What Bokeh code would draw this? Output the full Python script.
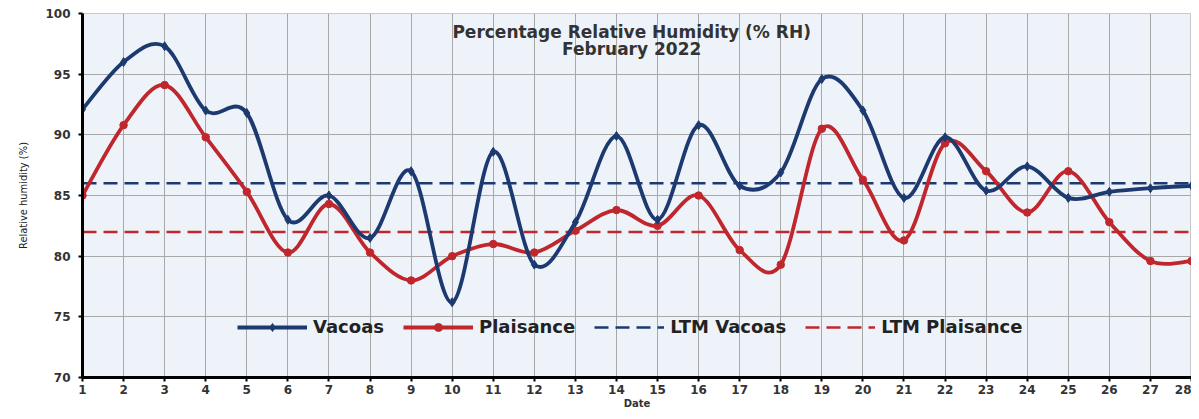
from bokeh.plotting import figure
from bokeh.models import (Range1d, FixedTicker, ColumnDataSource, Legend, LegendItem, Label)
from bokeh.embed import file_html
from bokeh.resources import INLINE

days = list(range(1, 29))
vacoas = [92.1, 96.0, 97.3, 92.0, 91.8, 83.0, 85.0, 81.5, 87.0, 76.2, 88.6, 79.3, 82.8, 89.9,
          83.0, 90.8, 85.8, 86.9, 94.6, 92.0, 84.8, 89.8, 85.4, 87.4, 84.8, 85.3, 85.6, 85.8]
plaisance = [85.0, 90.8, 94.1, 89.8, 85.3, 80.3, 84.3, 80.3, 78.0, 80.0, 81.0, 80.3, 82.1, 83.8,
             82.5, 85.0, 80.5, 79.3, 90.5, 86.3, 81.3, 89.3, 87.0, 83.6, 87.0, 82.8, 79.6, 79.6]
ltm_vacoas = 86.0
ltm_plaisance = 82.0
title_lines = ["Percentage Relative Humidity (% RH)", "February 2022"]

NAVY = "#1d3a70"
RED = "#c0272d"
FONT = "DejaVu Sans"
NARROW = "'Liberation Sans Narrow', 'DejaVu Sans Condensed', 'Liberation Sans', sans-serif"


def smooth_segments(xs, ys):
    """Catmull-Rom style bezier control points (like Excel smoothed lines)."""
    n = len(xs)
    out = dict(x0=[], y0=[], x1=[], y1=[], cx0=[], cy0=[], cx1=[], cy1=[])
    for i in range(n - 1):
        p0 = (xs[max(i - 1, 0)], ys[max(i - 1, 0)])
        p1 = (xs[i], ys[i])
        p2 = (xs[i + 1], ys[i + 1])
        p3 = (xs[min(i + 2, n - 1)], ys[min(i + 2, n - 1)])
        out["x0"].append(p1[0]); out["y0"].append(p1[1])
        out["x1"].append(p2[0]); out["y1"].append(p2[1])
        out["cx0"].append(p1[0] + (p2[0] - p0[0]) / 6.0)
        out["cy0"].append(p1[1] + (p2[1] - p0[1]) / 6.0)
        out["cx1"].append(p2[0] - (p3[0] - p1[0]) / 6.0)
        out["cy1"].append(p2[1] - (p3[1] - p1[1]) / 6.0)
    return out


p = figure(width=1191, height=411, output_backend="svg", toolbar_location=None,
           x_range=Range1d(1, 28), y_range=Range1d(70, 100),
           min_border_left=82, min_border_right=0, min_border_top=13, min_border_bottom=33)

p.background_fill_color = "#eef3fa"
p.border_fill_color = "white"
p.outline_line_color = "#c8c8c8"

p.xgrid.grid_line_color = "#a8a8a8"
p.ygrid.grid_line_color = "#a8a8a8"
p.xgrid.grid_line_width = 1
p.ygrid.grid_line_width = 1

p.xaxis.ticker = FixedTicker(ticks=days)
p.yaxis.ticker = FixedTicker(ticks=list(range(70, 101, 5)))
for ax in (p.xaxis[0], p.yaxis[0]):
    ax.axis_line_color = "black"
    ax.axis_line_width = 3
    ax.major_tick_line_color = "black"
    ax.major_tick_line_width = 2
    ax.major_tick_in = 0
    ax.major_tick_out = 4
    ax.minor_tick_line_color = None
    ax.major_label_text_font = FONT
    ax.major_label_text_font_style = "bold"
    ax.major_label_text_font_size = "12px"
    ax.major_label_text_color = "#333333"

p.yaxis.major_label_standoff = 8
p.xaxis.major_label_standoff = 3
p.yaxis.axis_label = "Relative humidity (%)"
p.yaxis.axis_label_text_font = NARROW
p.yaxis.axis_label_text_font_style = "normal"
p.yaxis.axis_label_text_font_size = "11px"
p.yaxis.axis_label_standoff = 12
p.yaxis.axis_label_text_color = "#222222"
p.xaxis.axis_label = "Date"
p.xaxis.axis_label_text_font = FONT
p.xaxis.axis_label_text_font_style = "bold"
p.xaxis.axis_label_text_font_size = "10px"
p.xaxis.axis_label_standoff = 1
p.xaxis.axis_label_text_color = "#333333"

# LTM lines
x_first, x_last = days[0], days[-1]
ltm_v = p.segment(x0=[x_first], x1=[x_last], y0=[ltm_vacoas], y1=[ltm_vacoas],
                  line_color=NAVY, line_width=2.5, line_dash="14 7")
ltm_p = p.segment(x0=[x_first], x1=[x_last], y0=[ltm_plaisance], y1=[ltm_plaisance],
                  line_color=RED, line_width=2.5, line_dash="14 7")

# Smoothed series
sv = ColumnDataSource(smooth_segments(days, vacoas))
sp = ColumnDataSource(smooth_segments(days, plaisance))
bp = p.bezier(x0="x0", y0="y0", x1="x1", y1="y1", cx0="cx0", cy0="cy0", cx1="cx1", cy1="cy1",
              source=sp, line_color=RED, line_width=3.8)
mp = p.scatter(days, plaisance, marker="circle", size=7.5, color=RED)
bv = p.bezier(x0="x0", y0="y0", x1="x1", y1="y1", cx0="cx0", cy0="cy0", cx1="cx1", cy1="cy1",
              source=sv, line_color=NAVY, line_width=3.8)
mv = p.scatter(days, vacoas, marker="diamond", size=9, color=NAVY)

legend = Legend(items=[
    LegendItem(label="Vacoas", renderers=[bv, mv]),
    LegendItem(label="Plaisance", renderers=[bp, mp]),
    LegendItem(label="LTM Vacoas", renderers=[ltm_v]),
    LegendItem(label="LTM Plaisance", renderers=[ltm_p]),
], orientation="horizontal", location=(155, 40))
legend.background_fill_alpha = 0
legend.border_line_color = None
legend.label_text_font = FONT
legend.label_text_font_style = "bold"
legend.label_text_font_size = "18px"
legend.label_text_color = "#222222"
legend.glyph_width = 70
legend.glyph_height = 20
legend.label_standoff = 6
legend.spacing = 19
legend.padding = 0
legend.margin = 0
p.add_layout(legend, "center")

# Title
p.add_layout(Label(x=14.37, y=98.5, text=title_lines[0], text_align="center", text_baseline="middle",
                   text_font=FONT, text_font_style="bold", text_font_size="17px", text_color="#333333"))
p.add_layout(Label(x=14.37, y=97.05, text=title_lines[1], text_align="center", text_baseline="middle",
                   text_font=FONT, text_font_style="bold", text_font_size="17px", text_color="#333333"))

open("out.html", "w").write(file_html(p, INLINE))
